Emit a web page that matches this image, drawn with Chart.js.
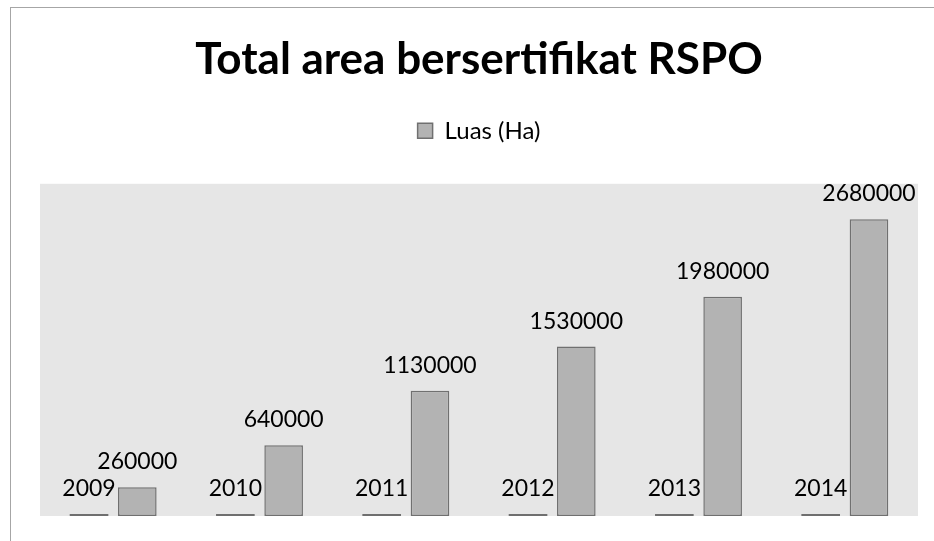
<!DOCTYPE html>
<html>
<head>
<meta charset="utf-8">
<script src="https://cdn.jsdelivr.net/npm/chart.js@4"></script>
<style>
  html, body { margin: 0; padding: 0; background: #fff; }
  #wrap { position: relative; width: 934px; height: 541px; overflow: hidden; }
  #frame { position: absolute; left: 10px; top: 7px; width: 940px; height: 560px; border: 1px solid #a6a6a6; box-sizing: border-box; }
  canvas { position: absolute; left: 0; top: 0; }
</style>
</head>
<body>
<div id="wrap">
  <div id="frame"></div>
  <canvas id="rspoChart" width="934" height="541"></canvas>
</div>
<script>
const years = ["2009", "2010", "2011", "2012", "2013", "2014"];
const tahunValues = [2009, 2010, 2011, 2012, 2013, 2014];
const luasValues = [260000, 640000, 1130000, 1530000, 1980000, 2680000];
const yMax = 3000000;

const fontFamily = "Lato, 'Open Sans', sans-serif";

// grey plot background like the original spreadsheet chart
const plotBackground = {
    id: "plotBackground",
    beforeDraw(chart) {
        const { ctx, chartArea } = chart;
        ctx.save();
        ctx.fillStyle = "#e6e6e6";
        ctx.fillRect(chartArea.left, chartArea.top, chartArea.right - chartArea.left, chartArea.bottom - chartArea.top);
        ctx.restore();
    }
};

// value labels above each bar
const barLabels = {
    id: "barLabels",
    afterDatasetsDraw(chart) {
        const ctx = chart.ctx;
        ctx.save();
        ctx.font = "23px " + fontFamily;
        ctx.fillStyle = "#000";
        ctx.textAlign = "center";
        ctx.textBaseline = "alphabetic";
        chart.data.datasets.forEach((ds, i) => {
            const meta = chart.getDatasetMeta(i);
            meta.data.forEach((bar, j) => {
                ctx.fillText(String(ds.data[j]), bar.x, bar.y - 18);
            });
        });
        ctx.restore();
    }
};

// extra space between legend and plot area
const legendGap = {
    id: "legendGap",
    beforeInit(chart) {
        const fit = chart.legend.fit;
        chart.legend.fit = function () {
            fit.bind(chart.legend)();
            this.height += 31;
        };
    }
};

const ctx = document.getElementById("rspoChart").getContext("2d");
const chart = new Chart(ctx, {
    type: "bar",
    data: {
        labels: years,
        datasets: [
            {
                label: "Tahun",
                data: tahunValues,
                backgroundColor: "#6f6f6f",
                borderColor: "#6f6f6f",
                borderWidth: 0,
                minBarLength: 2,
                barPercentage: 0.8,
                categoryPercentage: 0.66
            },
            {
                label: "Luas (Ha)",
                data: luasValues,
                backgroundColor: "#b3b3b3",
                borderColor: "#707070",
                borderWidth: 1.5,
                borderSkipped: false,
                barPercentage: 0.8,
                categoryPercentage: 0.66
            }
        ]
    },
    options: {
        responsive: false,
        animation: false,
        layout: {
            padding: { left: 40, right: 16, top: 0, bottom: 25 }
        },
        scales: {
            x: { display: false, grid: { display: false } },
            y: { display: false, min: 0, max: yMax, grid: { display: false } }
        },
        plugins: {
            title: {
                display: true,
                text: "Total area bersertifikat RSPO",
                color: "#000",
                font: { family: fontFamily, size: 44, weight: "bold", lineHeight: 1.2 },
                padding: { top: 33, bottom: 23 }
            },
            legend: {
                display: true,
                position: "top",
                labels: {
                    color: "#000",
                    font: { family: fontFamily, size: 24 },
                    boxWidth: 15,
                    boxHeight: 15,
                    padding: 10,
                    filter: item => item.text === "Luas (Ha)"
                }
            },
            tooltip: { enabled: false }
        }
    },
    plugins: [plotBackground, barLabels, legendGap]
});
</script>
</body>
</html>
